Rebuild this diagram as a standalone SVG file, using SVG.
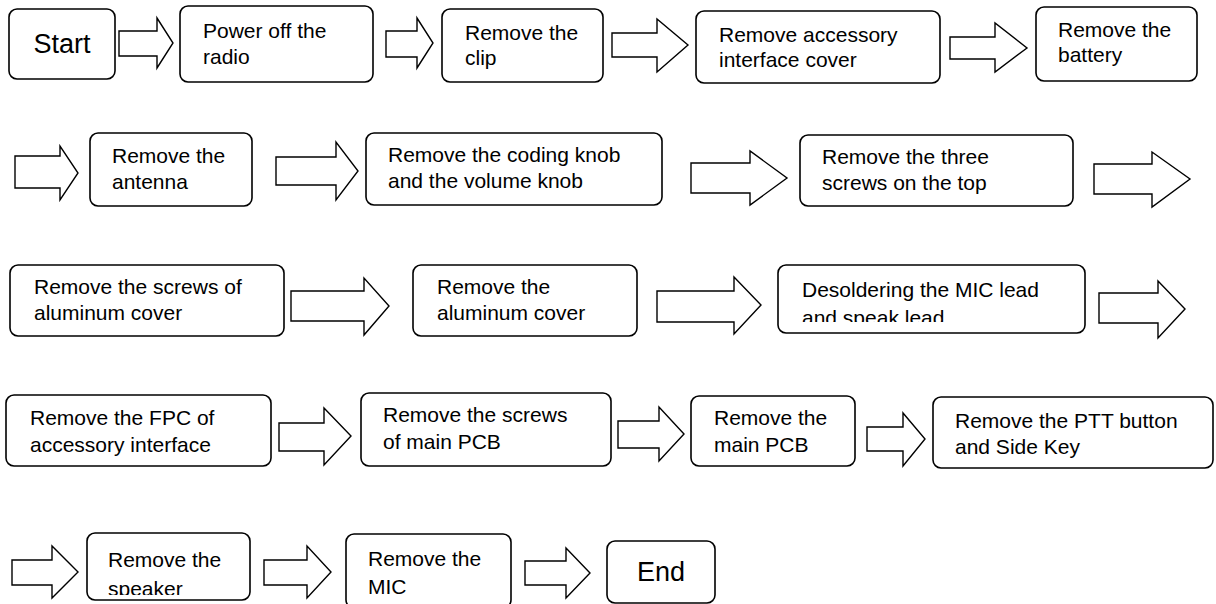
<svg xmlns="http://www.w3.org/2000/svg" width="1216" height="604" viewBox="0 0 1216 604">
<defs>
<style>
.box{fill:#fff;stroke:#000;stroke-width:1.6}
.arr{fill:#fff;stroke:#000;stroke-width:1.4;stroke-linejoin:miter}
.t{font-family:"Liberation Sans",Arial,sans-serif;font-size:21px;fill:#000}
.big{font-family:"Liberation Sans",Arial,sans-serif;font-size:27px;fill:#000;text-anchor:middle}
</style>
<clipPath id="cDes"><rect x="778" y="265" width="307" height="57"/></clipPath>
<clipPath id="cSpk"><rect x="87" y="533" width="163" height="62"/></clipPath>
</defs>
<rect width="1216" height="604" fill="#fff"/>
<g id="connectors">
<polygon class="arr" points="119,31 157,31 157,18 173,43 157,68 157,56 119,56"/>
<polygon class="arr" points="386,31 417,31 417,18 433,43 417,68 417,57 386,57"/>
<polygon class="arr" points="612,33 657,33 657,19 688,45 657,72 657,57 612,57"/>
<polygon class="arr" points="950,37 995,37 995,23 1027,48 995,72 995,59 950,59"/>
<polygon class="arr" points="15,156 60,156 60,146 78,173 60,200 60,188 15,188"/>
<polygon class="arr" points="276,157 336,157 336,142 358,171 336,200 336,185 276,185"/>
<polygon class="arr" points="691,163 750,163 750,151 787,178 750,205 750,193 691,193"/>
<polygon class="arr" points="1094,164 1152,164 1152,152 1190,179 1152,207 1152,194 1094,194"/>
<polygon class="arr" points="291,291 364,291 364,278 389,306 364,335 364,321 291,321"/>
<polygon class="arr" points="657,291 734,291 734,277 761,305 734,334 734,322 657,322"/>
<polygon class="arr" points="1099,293 1158,293 1158,281 1185,309 1158,338 1158,323 1099,323"/>
<polygon class="arr" points="279,423 324,423 324,408 351,436 324,465 324,451 279,451"/>
<polygon class="arr" points="618,421 659,421 659,407 684,434 659,461 659,448 618,448"/>
<polygon class="arr" points="867,427 903,427 903,413 925,439 903,466 903,451 867,451"/>
<polygon class="arr" points="12,560 52,560 52,546 78,572 52,598 52,585 12,585"/>
<polygon class="arr" points="264,560 307,560 307,546 331,572 307,598 307,585 264,585"/>
<polygon class="arr" points="525,561 566,561 566,548 590,573 566,598 566,585 525,585"/>
</g>
<g id="start"><rect class="box" x="9" y="9" width="106" height="70" rx="8"/><text class="big" x="62" y="53">Start</text></g>
<g id="power-off"><rect class="box" x="180" y="6" width="193" height="76" rx="8"/><text class="t" x="203" y="38">Power off the</text><text class="t" x="203" y="64">radio</text></g>
<g id="clip"><rect class="box" x="442" y="9" width="161" height="73" rx="8"/><text class="t" x="465" y="40">Remove the</text><text class="t" x="465" y="65">clip</text></g>
<g id="accessory-cover"><rect class="box" x="696" y="11" width="244" height="72" rx="8"/><text class="t" x="719" y="42">Remove accessory</text><text class="t" x="719" y="67">interface cover</text></g>
<g id="battery"><rect class="box" x="1036" y="7" width="161" height="74" rx="8"/><text class="t" x="1058" y="37">Remove the</text><text class="t" x="1058" y="62">battery</text></g>
<g id="antenna"><rect class="box" x="90" y="133" width="162" height="73" rx="8"/><text class="t" x="112" y="163">Remove the</text><text class="t" x="112" y="189">antenna</text></g>
<g id="knobs"><rect class="box" x="366" y="133" width="296" height="72" rx="8"/><text class="t" x="388" y="162">Remove the coding knob</text><text class="t" x="388" y="188">and the volume knob</text></g>
<g id="top-screws"><rect class="box" x="800" y="135" width="273" height="71" rx="8"/><text class="t" x="822" y="164">Remove the three</text><text class="t" x="822" y="190">screws on the top</text></g>
<g id="al-screws"><rect class="box" x="10" y="265" width="274" height="71" rx="8"/><text class="t" x="34" y="294">Remove the screws of</text><text class="t" x="34" y="320">aluminum cover</text></g>
<g id="al-cover"><rect class="box" x="413" y="265" width="224" height="71" rx="8"/><text class="t" x="437" y="294">Remove the</text><text class="t" x="437" y="320">aluminum cover</text></g>
<g id="desolder"><rect class="box" x="778" y="265" width="307" height="68" rx="8"/><text class="t" x="802" y="297">Desoldering the MIC lead</text><text class="t" x="802" y="325" clip-path="url(#cDes)">and speak lead</text></g>
<g id="fpc"><rect class="box" x="6" y="395" width="265" height="71" rx="8"/><text class="t" x="30" y="425">Remove the FPC of</text><text class="t" x="30" y="452">accessory interface</text></g>
<g id="pcb-screws"><rect class="box" x="361" y="393" width="250" height="73" rx="8"/><text class="t" x="383" y="422">Remove the screws</text><text class="t" x="383" y="449">of main PCB</text></g>
<g id="main-pcb"><rect class="box" x="691" y="396" width="164" height="70" rx="8"/><text class="t" x="714" y="425">Remove the</text><text class="t" x="714" y="452">main PCB</text></g>
<g id="ptt"><rect class="box" x="933" y="397" width="280" height="71" rx="8"/><text class="t" x="955" y="428">Remove the PTT button</text><text class="t" x="955" y="454">and Side Key</text></g>
<g id="speaker"><rect class="box" x="87" y="533" width="163" height="67" rx="8"/><text class="t" x="108" y="567">Remove the</text><text class="t" x="108" y="596" clip-path="url(#cSpk)">speaker</text></g>
<g id="mic"><rect class="box" x="346" y="534" width="165" height="74" rx="8"/><text class="t" x="368" y="566">Remove the</text><text class="t" x="368" y="594">MIC</text></g>
<g id="end"><rect class="box" x="607" y="541" width="108" height="62" rx="8"/><text class="big" x="661" y="581">End</text></g>
</svg>
